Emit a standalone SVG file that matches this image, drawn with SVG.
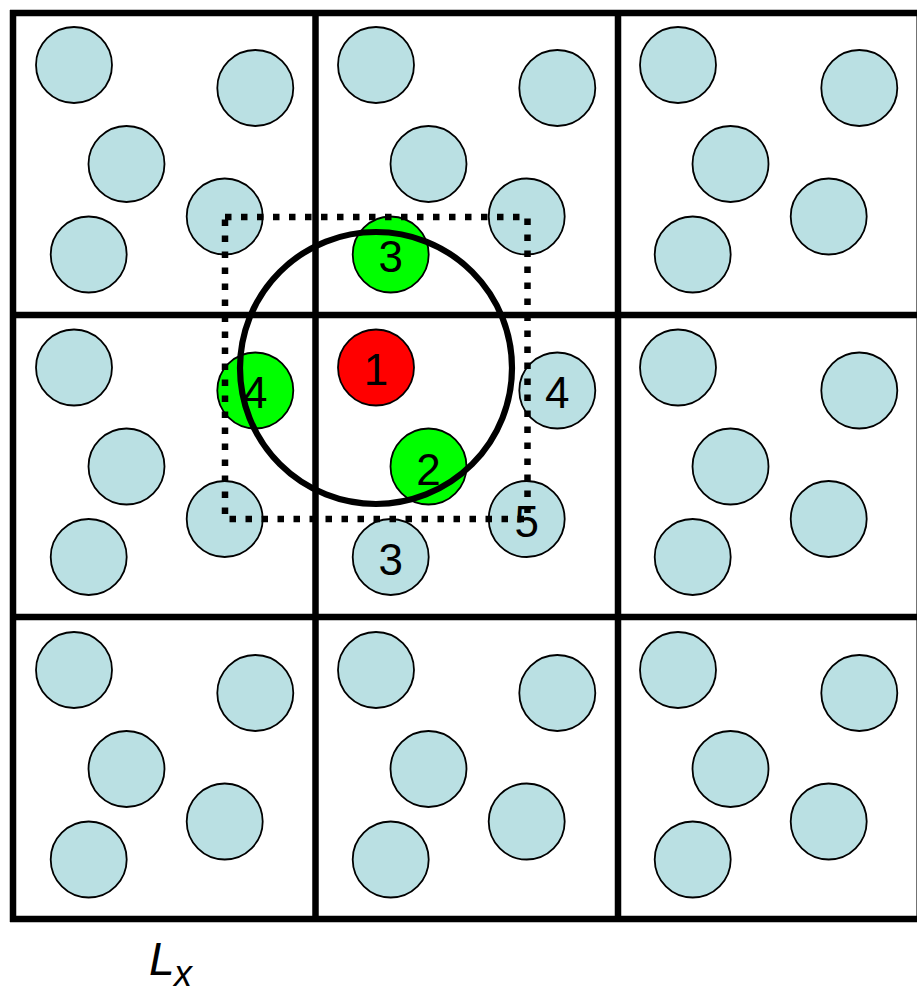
<svg xmlns="http://www.w3.org/2000/svg" width="917" height="989" viewBox="0 0 917 989">
<style>
.p{fill:#BAE0E3;stroke:#000;stroke-width:1.8}
.g{fill:#00FF00;stroke:#000;stroke-width:1.8}
.r{fill:#FF0000;stroke:#000;stroke-width:1.8}
.grid{stroke:#000;stroke-width:6.5;fill:none}
.lbl{font-family:"Liberation Sans",Arial,sans-serif;font-size:44px;text-anchor:middle;fill:#000}
.ax{font-family:"Liberation Sans",Arial,sans-serif;font-style:italic;fill:#000}
</style>
<defs>
<circle id="pA" cx="74" cy="65" r="38"/>
<circle id="pB" cx="255.3" cy="88" r="38"/>
<circle id="pC" cx="126.5" cy="164" r="38"/>
<circle id="pD" cx="224.7" cy="216.5" r="38"/>
<circle id="pE" cx="88.7" cy="254.5" r="38"/>
</defs>
<rect width="917" height="989" fill="#fff"/>
<g id="grid" class="grid">
<line x1="13" y1="10" x2="13" y2="922"/>
<line x1="315.5" y1="10" x2="315.5" y2="922"/>
<line x1="618" y1="10" x2="618" y2="922"/>
<line x1="919.7" y1="10" x2="919.7" y2="922"/>
<line x1="10" y1="13" x2="925" y2="13"/>
<line x1="10" y1="315" x2="925" y2="315"/>
<line x1="10" y1="617" x2="925" y2="617"/>
<line x1="10" y1="919" x2="925" y2="919"/>
</g>
<g id="cell-0-0"><use href="#pA" class="p"/><use href="#pB" class="p"/><use href="#pC" class="p"/><use href="#pD" class="p"/><use href="#pE" class="p"/></g>
<g id="cell-1-0" transform="translate(302,0)"><use href="#pA" class="p"/><use href="#pB" class="p"/><use href="#pC" class="p"/><use href="#pD" class="p"/>
<g id="image3"><use href="#pE" class="g"/><text class="lbl" x="88.7" y="271.5">3</text></g></g>
<g id="cell-2-0" transform="translate(604,0)"><use href="#pA" class="p"/><use href="#pB" class="p"/><use href="#pC" class="p"/><use href="#pD" class="p"/><use href="#pE" class="p"/></g>
<g id="cell-0-1" transform="translate(0,302.5)"><use href="#pA" class="p"/><use href="#pC" class="p"/><use href="#pD" class="p"/><use href="#pE" class="p"/>
<g id="image4"><use href="#pB" class="g"/><text class="lbl" x="255.3" y="105.5">4</text></g></g>
<g id="cell-1-1" transform="translate(302,302.5)">
<g id="particle1"><use href="#pA" class="r"/><text class="lbl" x="74" y="82">1</text></g>
<g id="particle2"><use href="#pC" class="g"/><text class="lbl" x="126.5" y="182">2</text></g>
<g id="particle4"><use href="#pB" class="p"/><text class="lbl" x="255.3" y="105.5">4</text></g>
<g id="particle5"><use href="#pD" class="p"/><text class="lbl" x="224.7" y="234">5</text></g>
<g id="particle3"><use href="#pE" class="p"/><text class="lbl" x="88.7" y="272">3</text></g>
</g>
<g id="cell-2-1" transform="translate(604,302.5)"><use href="#pA" class="p"/><use href="#pB" class="p"/><use href="#pC" class="p"/><use href="#pD" class="p"/><use href="#pE" class="p"/></g>
<g id="cell-0-2" transform="translate(0,605)"><use href="#pA" class="p"/><use href="#pB" class="p"/><use href="#pC" class="p"/><use href="#pD" class="p"/><use href="#pE" class="p"/></g>
<g id="cell-1-2" transform="translate(302,605)"><use href="#pA" class="p"/><use href="#pB" class="p"/><use href="#pC" class="p"/><use href="#pD" class="p"/><use href="#pE" class="p"/></g>
<g id="cell-2-2" transform="translate(604,605)"><use href="#pA" class="p"/><use href="#pB" class="p"/><use href="#pC" class="p"/><use href="#pD" class="p"/><use href="#pE" class="p"/></g>
<g id="connectors">
<circle id="cutoff" cx="376" cy="368" r="136" fill="none" stroke="#000" stroke-width="6.2"/>
<rect id="box" x="225" y="217" width="302.5" height="302" fill="none" stroke="#000" stroke-width="6.5" stroke-dasharray="6.5 9.5"/>
</g>
<g id="label-Lx"><text class="ax" x="149" y="975" font-size="46">L</text><text class="ax" x="174" y="986" font-size="36">x</text></g>
</svg>
